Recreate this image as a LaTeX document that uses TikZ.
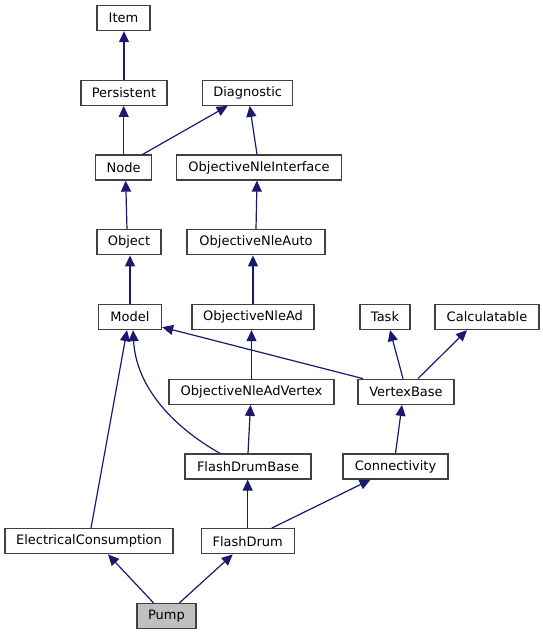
\documentclass[tikz,border=0pt]{standalone}
\usepackage{fontspec}
\setmainfont{DejaVu Sans}
\usetikzlibrary{arrows.meta}
\definecolor{edgeblue}{HTML}{191970}
\definecolor{boxline}{HTML}{404040}
\definecolor{pumpfill}{HTML}{BFBFBF}
\begin{document}
\begin{tikzpicture}[x=1pt,y=-1pt,
  box/.style={draw=boxline,line width=1.3pt,fill=white,minimum height=25pt,inner xsep=1pt,inner ysep=0pt,font=\fontsize{13}{15}\selectfont},
  edge/.style={draw=edgeblue,line width=1.2pt,-{Triangle[length=11pt,width=10pt,fill=edgeblue]}}]
\useasboundingbox (0,0) rectangle (543,635);
% row y: 18, 92.75, 167.5, 242.25, 317, 391.75, 466.5, 541.25, 616
\node[box,minimum width=53pt] (item) at (123.5,18) {Item};
\node[box,minimum width=86pt] (persistent) at (124,92.75) {Persistent};
\node[box,minimum width=90pt] (diagnostic) at (247.7,92.75) {Diagnostic};
\node[box,minimum width=56pt] (node) at (123.7,167.5) {Node};
\node[box,minimum width=165pt] (oni) at (259,167.5) {ObjectiveNleInterface};
\node[box,minimum width=64pt] (object) at (129,242.25) {Object};
\node[box,minimum width=138pt] (onauto) at (256,242.25) {ObjectiveNleAuto};
\node[box,minimum width=63pt] (model) at (130,317) {Model};
\node[box,minimum width=122pt] (onad) at (253,317) {ObjectiveNleAd};
\node[box,minimum width=50pt] (task) at (385,317) {Task};
\node[box,minimum width=104pt] (calc) at (487,317) {Calculatable};
\node[box,minimum width=165pt] (onadv) at (251.5,391.75) {ObjectiveNleAdVertex};
\node[box,minimum width=96pt] (vbase) at (406,391.75) {VertexBase};
\node[box,minimum width=126pt] (fdbase) at (248,466.5) {FlashDrumBase};
\node[box,minimum width=105pt] (conn) at (395.5,466.5) {Connectivity};
\node[box,minimum width=168pt] (elec) at (89,541.25) {ElectricalConsumption};
\node[box,minimum width=93pt] (fd) at (247.7,541.25) {FlashDrum};
\node[box,minimum width=59pt,fill=pumpfill] (pump) at (166.5,616) {Pump};
% edges
\draw[edge] (persistent.north) -- (persistent.north |- item.south);
\draw[edge] (node.north) -- (node.north |- persistent.south);
\draw[edge] ([xshift=19pt]node.north) -- ([xshift=-20pt]diagnostic.south);
\draw[edge] ([xshift=-2pt]oni.north) -- ([xshift=2pt]diagnostic.south);
\draw[edge] ([xshift=-2pt]object.north) -- ([xshift=2pt]node.south);
\draw[edge] (onauto.north) -- ([xshift=-2pt]oni.south);
\draw[edge] (model.north) -- (model.north |- object.south);
\draw[edge] (onad.north) -- ([xshift=-3pt]onauto.south);
\draw[edge] ([xshift=-43pt]vbase.north) -- ([yshift=3pt]model.south east);
\draw[edge] ([xshift=-3pt]vbase.north) -- ([xshift=5pt]task.south);
\draw[edge] ([xshift=12pt]vbase.north) -- ([xshift=-20pt]calc.south);
\draw[edge] (onadv.north) -- (onadv.north |- onad.south);
\draw[edge] (fdbase.north) -- ([xshift=-1pt]onadv.south);
\draw[edge] ([xshift=-28pt]fdbase.north) .. controls (170,425) and (136,385) .. ([xshift=3pt]model.south);
\draw[edge] (conn.north) -- ([xshift=-4pt]vbase.south);
\draw[edge] ([xshift=2pt]elec.north) -- ([xshift=-3pt]model.south);
\draw[edge] (fd.north) -- (fd.north |- fdbase.south);
\draw[edge] ([xshift=24pt]fd.north) -- ([xshift=-25pt]conn.south);
\draw[edge] ([xshift=-13pt]pump.north) -- ([xshift=19pt]elec.south);
\draw[edge] ([xshift=13pt]pump.north) -- ([xshift=-15pt]fd.south);
\end{tikzpicture}
\end{document}
